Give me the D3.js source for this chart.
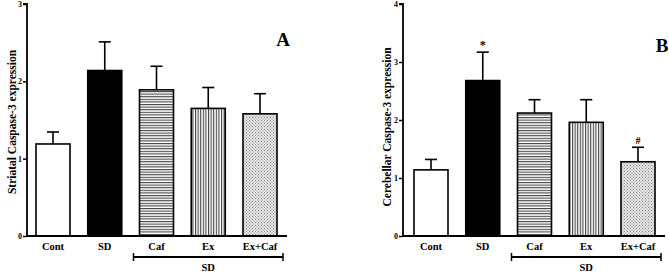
<!DOCTYPE html>
<html><head><meta charset="utf-8">
<script src="https://cdn.jsdelivr.net/npm/d3@7"></script>
<style>body{margin:0;background:#fff}svg{display:block}text{font-family:"Liberation Serif","Times New Roman",serif;font-weight:bold}</style>
</head><body>
<svg id="c" width="669" height="273"></svg>
<script>
const categories = ["Cont","SD","Caf","Ex","Ex+Caf"];
const striatalMean = [1.19, 2.14, 1.89, 1.65, 1.58];
const striatalErr  = [0.155, 0.37, 0.305, 0.27, 0.26];
const cerebMean = [1.14, 2.68, 2.12, 1.96, 1.28];
const cerebErr  = [0.18, 0.49, 0.23, 0.39, 0.25];
const cerebMarks = ["", "*", "", "", "#"];
const ticksA = [0,1,2,3];
const ticksB = [0,1,2,3,4];

const svg = d3.select("#c");
const defs = svg.append("defs");
const ph = defs.append("pattern").attr("id","ph").attr("patternUnits","userSpaceOnUse").attr("width",4).attr("height",2.6);
ph.append("rect").attr("width",4).attr("height",2.6).attr("fill","#fff");
ph.append("rect").attr("width",4).attr("height",1.1).attr("fill","#444");
const pv = defs.append("pattern").attr("id","pv").attr("patternUnits","userSpaceOnUse").attr("width",2.6).attr("height",4);
pv.append("rect").attr("width",2.6).attr("height",4).attr("fill","#fff");
pv.append("rect").attr("width",1.1).attr("height",4).attr("fill","#444");
const pd = defs.append("pattern").attr("id","pd").attr("patternUnits","userSpaceOnUse").attr("width",3).attr("height",3);
pd.append("rect").attr("width",3).attr("height",3).attr("fill","#e4e4e4");
pd.append("rect").attr("x",0).attr("y",0).attr("width",1).attr("height",1).attr("fill","#888");
pd.append("rect").attr("x",1.5).attr("y",1.5).attr("width",1).attr("height",1).attr("fill","#999");
const fills = ["#fff","#000","url(#ph)","url(#pv)","url(#pd)"];

function panel(o){
  const g = svg.append("g");
  const y = d3.scaleLinear().domain([0,o.max]).range([236,4]);
  const x = d3.scaleBand().domain(categories).range([o.b0,o.b1]).paddingInner(0.343).paddingOuter(0);
  g.selectAll("rect.bar").data(categories).join("rect")
    .attr("x",d=>x(d)).attr("width",x.bandwidth())
    .attr("y",(d,i)=>y(o.mean[i])).attr("height",(d,i)=>236-y(o.mean[i]))
    .attr("fill",(d,i)=>fills[i]).attr("stroke","#000").attr("stroke-width",1.6);
  categories.forEach((d,i)=>{
    const cx = x(d)+x.bandwidth()/2;
    g.append("line").attr("x1",cx).attr("x2",cx).attr("y1",y(o.mean[i])).attr("y2",y(o.mean[i]+o.err[i])).attr("stroke","#000").attr("stroke-width",1.6);
    g.append("line").attr("x1",cx-6).attr("x2",cx+6).attr("y1",y(o.mean[i]+o.err[i])).attr("y2",y(o.mean[i]+o.err[i])).attr("stroke","#000").attr("stroke-width",1.6);
    if(o.marks && o.marks[i]){
      g.append("text").attr("x",cx).attr("y",y(o.mean[i]+o.err[i])-3).attr("text-anchor","middle").attr("font-size",o.marks[i]==="*"?12:10).text(o.marks[i]);
    }
  });
  const ya = g.append("g").attr("transform",`translate(${o.x0},0)`).call(d3.axisLeft(y).tickValues(o.ticks).tickSize(4).tickFormat(d3.format("d")));
  ya.select(".domain").attr("stroke-width",1.8).attr("d",`M-4,${y(o.max)}H0V236`);
  ya.selectAll(".tick line").attr("stroke-width",1.5);
  ya.selectAll(".tick text").attr("font-size",8).attr("font-family","Liberation Serif").attr("font-weight","bold").attr("x",-5);
  g.append("line").attr("x1",o.x0).attr("x2",o.x1).attr("y1",236).attr("y2",236).attr("stroke","#000").attr("stroke-width",1.8);
  categories.forEach(d=>{
    g.append("text").attr("x",x(d)+x.bandwidth()/2).attr("y",250).attr("text-anchor","middle").attr("font-size",10.5).text(d);
  });
  const bx0 = x("Caf")-6, bx1 = x("Ex+Caf")+x.bandwidth()+6;
  g.append("line").attr("x1",bx0).attr("x2",bx1).attr("y1",257).attr("y2",257).attr("stroke","#000").attr("stroke-width",1.8);
  [bx0,bx1].forEach(bx=>g.append("line").attr("x1",bx).attr("x2",bx).attr("y1",253).attr("y2",261).attr("stroke","#000").attr("stroke-width",1.5));
  g.append("text").attr("x",(bx0+bx1)/2).attr("y",271).attr("text-anchor","middle").attr("font-size",10.5).text("SD");
  g.append("text").attr("transform",`translate(${o.labX},${o.labY}) rotate(-90)`).attr("text-anchor","middle").attr("font-size",11.5).text(o.label);
  g.append("text").attr("x",o.letX).attr("y",o.letY).attr("text-anchor","middle").attr("font-size",19).text(o.letter);
}

panel({x0:27,x1:287,b0:36,b1:277,max:3,ticks:ticksA,mean:striatalMean,err:striatalErr,label:"Striatal Caspase-3 expression",labX:16,labY:122,letter:"A",letX:283,letY:46});
panel({x0:403,x1:665,b0:414,b1:655,max:4,ticks:ticksB,mean:cerebMean,err:cerebErr,marks:cerebMarks,label:"Cerebellar Caspase-3 expression",labX:391,labY:127,letter:"B",letX:662,letY:52});
</script>
</body></html>
